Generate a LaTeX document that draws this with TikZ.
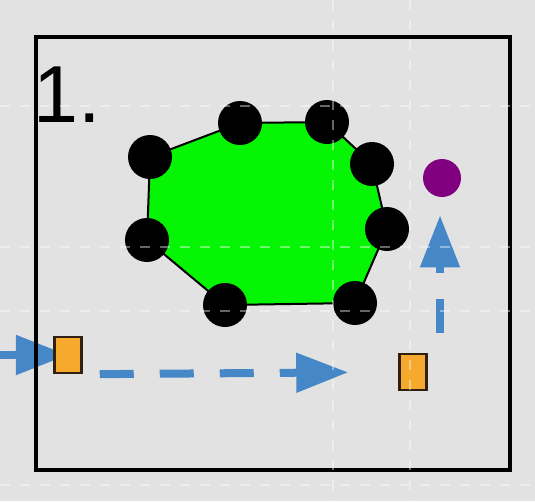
\documentclass[tikz,border=0pt]{standalone}
\usepackage{fontspec}
\setmainfont{Liberation Sans}
\usetikzlibrary{arrows.meta,calc}

\definecolor{bggray}{RGB}{226,226,226}
\definecolor{flowblue}{RGB}{70,135,200}
\definecolor{boxorange}{RGB}{245,170,45}
\definecolor{dotpurple}{RGB}{128,0,128}
\definecolor{polygreen}{RGB}{5,245,5}

\begin{document}
\begin{tikzpicture}[x=0.2mm,y=-0.2mm,
  flow/.style={draw=flowblue,line width=1.6mm,dash pattern=on 6.8mm off 5.2mm,
    -{Triangle[length=10.4mm,width=7.6mm]}},
  vtx/.style={circle,fill=black,inner sep=0pt,minimum size=8.8mm},
  obox/.style={draw=black!75!brown,fill=boxorange,line width=0.5mm,inner sep=0pt,
    minimum width=5.4mm,minimum height=7.2mm},
  gridline/.style={white,opacity=0.4,line width=0.5mm,dash pattern=on 2mm off 2mm}]
  \fill[bggray] (0,0) rectangle (535,501);
  \useasboundingbox (0,0) rectangle (535,501);
  % polygon and its corners
  \coordinate (v1) at (150,157);
  \coordinate (v2) at (240,123);
  \coordinate (v3) at (327,122);
  \coordinate (v4) at (372,164);
  \coordinate (v5) at (387,229);
  \coordinate (v6) at (355,303);
  \coordinate (v7) at (225,305);
  \coordinate (v8) at (147,240);
  \filldraw[fill=polygreen,draw=black,line width=0.4mm]
    (v1) -- (v2) -- (v3) -- (v4) -- (v5) -- (v6) -- (v7) -- (v8) -- cycle;
  \node[vtx] (d1) at (v1) {};
  \node[vtx] (d2) at (v2) {};
  \node[vtx] (d3) at (v3) {};
  \node[vtx] (d4) at (v4) {};
  \node[vtx] (d5) at (v5) {};
  \node[vtx] (d6) at (v6) {};
  \node[vtx] (d7) at (v7) {};
  \node[vtx] (d8) at (v8) {};
  \node[circle,fill=dotpurple,inner sep=0pt,minimum size=7.6mm] (goal) at (442,178) {};
  % path of the agent
  \coordinate (in) at (0,355);
  \coordinate (b1) at (68,355);
  \draw[flow] (in) -- (b1);
  \node[obox] (box1) at (b1) {};
  \node[obox] (box2) at (413,372) {};
  \draw[flow,shorten <=3.4mm,shorten >=10mm] (box1.south east) -- (box2.west);
  \coordinate (up) at (440,333);
  \draw[flow,shorten >=3.6mm] (up) -- (up |- goal.south);
  \draw[line width=0.8mm] (36,37) rectangle (510,470);
  \node[anchor=base west,inner sep=0pt,font=\fontsize{46}{50}\selectfont] (num) at (33,122) {1.};
  % faint grid on top
  \draw[gridline] (0,106) -- (535,106);
  \draw[gridline] (0,247) -- (535,247);
  \draw[gridline] (0,311) -- (535,311);
  \draw[gridline] (0,485) -- (535,485);
  \draw[gridline] (333,0) -- (333,501);
  \draw[gridline] (410,0) -- (410,501);
\end{tikzpicture}
\end{document}
